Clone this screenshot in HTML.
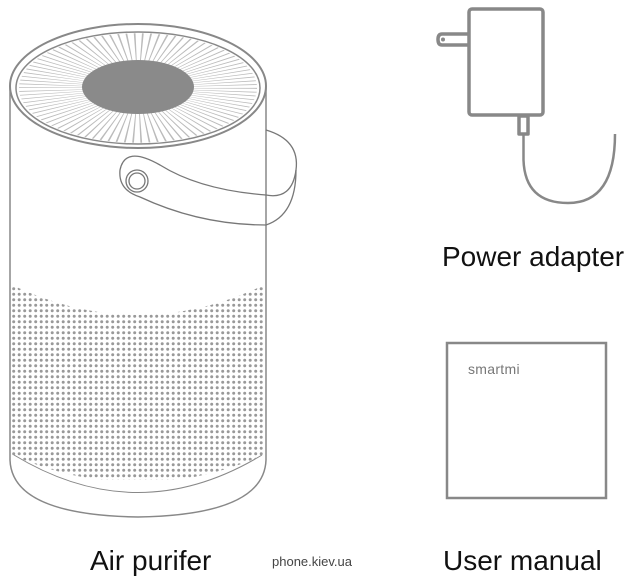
<!DOCTYPE html>
<html><head><style>
body{margin:0;background:#fff;width:633px;height:587px;overflow:hidden;position:relative;font-family:"Liberation Sans",sans-serif}
.t{position:absolute;color:#111;font-size:28px;white-space:nowrap}
</style></head><body>
<svg width="633" height="587" style="position:absolute;left:0;top:0">
<defs>
<pattern id="dots" width="5.5" height="5.5" patternUnits="userSpaceOnUse">
<circle cx="2.7" cy="2.7" r="1.5" fill="#999"/>
</pattern>
<clipPath id="dc"><path d="M12 285 Q138 345 264 285 L264 455 Q138 510 12 455 Z"/></clipPath>
</defs>
<g fill="none" stroke="#888" stroke-width="1.5">
<!-- body -->
<path d="M10 86 L10 460 Q12 515 138 517 Q264 515 266 460 L266 86"/>
<ellipse cx="138" cy="86" rx="128" ry="62" stroke-width="2"/>
<ellipse cx="138" cy="88" rx="122" ry="56"/>
<path d="M14 455 Q138 530 262 455" stroke-width="1"/>
</g>
<rect x="12" y="250" width="252" height="230" fill="url(#dots)" clip-path="url(#dc)"/>
<g transform="translate(138 88) scale(1 0.46)">
<circle r="86" fill="none" stroke="#bbb" stroke-width="66" stroke-dasharray="1.3 4.7"/>
</g>
<ellipse cx="138" cy="87" rx="56" ry="27" fill="#8a8a8a"/>
<!-- handle -->
<g fill="none" stroke="#777" stroke-width="1.3">
<path d="M266 130 Q300 140 296 170 Q292 200 266 195"/>
<path d="M266 195 Q200 190 160 165 Q125 145 120 170 Q118 190 140 197 Q200 225 266 225 Q296 215 296 170"/>
<circle cx="137" cy="181" r="11"/>
<circle cx="137" cy="181" r="8"/>
</g>
<!-- adapter -->
<g fill="none" stroke="#888" stroke-width="3.5" stroke-linejoin="round">
<rect x="469" y="9" width="74" height="106" rx="3"/>
<path d="M469 34 L442 34 Q438 34 438 39.5 Q438 45 442 45 L469 45"/>
<rect x="519" y="116" width="9" height="18"/>
<path d="M523.5 134 L523.5 160 Q525 203 568 203 Q615 203 615 134" stroke-width="2.5"/>
</g>
<circle cx="443" cy="39.5" r="2" fill="#888"/>
<!-- manual -->
<rect x="447" y="343" width="159" height="155" fill="none" stroke="#888" stroke-width="2.5"/>
</svg>
<div class="t" style="left:442px;top:241px">Power adapter</div>
<div class="t" style="left:443px;top:545px">User manual</div>
<div class="t" style="left:90px;top:545px">Air purifer</div>
<div style="position:absolute;left:468px;top:361px;font-size:14px;color:#777;letter-spacing:0.3px">smartmi</div>
<div style="position:absolute;left:272px;top:554px;font-size:13px;color:#444">phone.kiev.ua</div>
</body></html>
